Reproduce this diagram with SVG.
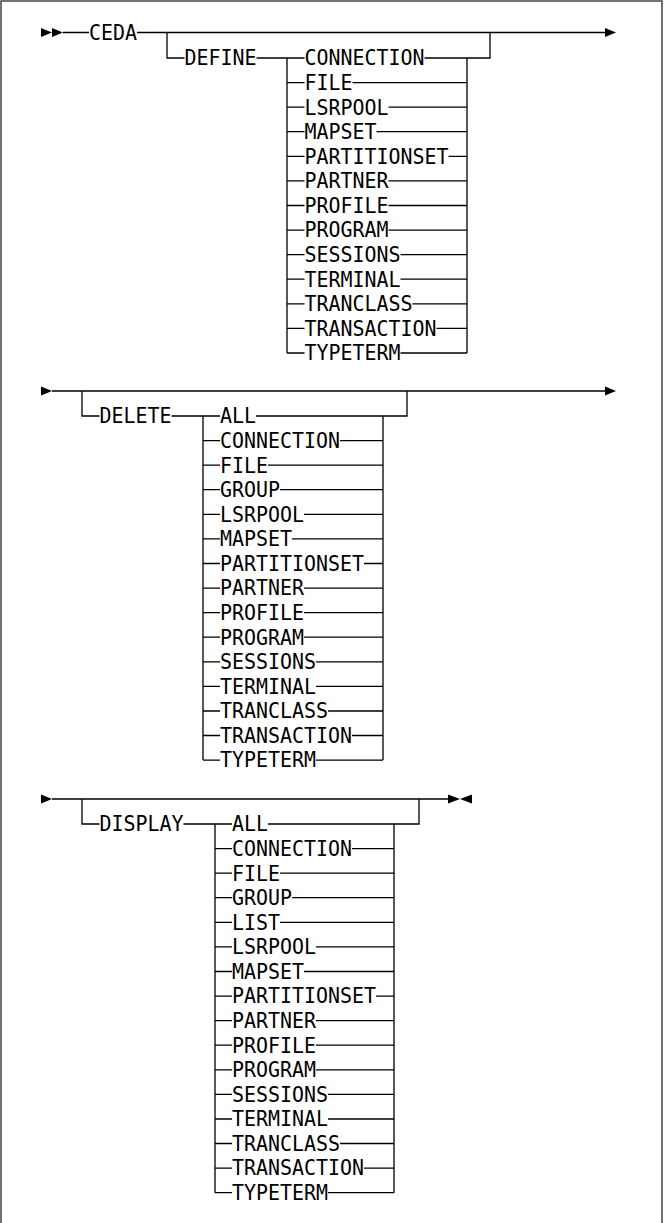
<svg xmlns="http://www.w3.org/2000/svg" width="664" height="1223" viewBox="0 0 664 1223">
<style>
.ln{stroke:#000;stroke-width:1.3;fill:none}
.ar{fill:#000;stroke:none}
.t{font-family:"DejaVu Sans Mono",monospace;font-size:21px;fill:#000}
.bd{fill:#fff;stroke:#444;stroke-width:1.5}
</style>
<rect class="bd" x="1" y="1" width="661" height="1230"/>
<g id="connectors">
<polygon class="ar" points="41,28 52,32.5 41,37"/>
<polygon class="ar" points="52,28 63,32.5 52,37"/>
<polygon class="ar" points="605,28 616,32.5 605,37"/>
<path class="ln" d="M63,32.5H89M137,32.5H605M167,32.5V58H184.5M256.5,58H287M287,58V353M467,58V353M490,32.5V58H424.5
M287,58H304.5
M287,82.6H304.5M352.5,82.6H467
M287,107.2H304.5M388.5,107.2H467
M287,131.7H304.5M376.5,131.7H467
M287,156.3H304.5M448.5,156.3H467
M287,180.9H304.5M388.5,180.9H467
M287,205.5H304.5M388.5,205.5H467
M287,230.1H304.5M388.5,230.1H467
M287,254.6H304.5M400.5,254.6H467
M287,279.2H304.5M400.5,279.2H467
M287,303.8H304.5M412.5,303.8H467
M287,328.4H304.5M436.5,328.4H467
M287,353H304.5M400.5,353H467"/>
<polygon class="ar" points="41,386.5 52,391 41,395.5"/>
<polygon class="ar" points="605,386.5 616,391 605,395.5"/>
<path class="ln" d="M52,391H605M82,391V416H99.5M171.5,416H203M203,416V760.1M383,416V760.1M407,391V416H256
M203,416H220
M203,440.6H220M340,440.6H383
M203,465.2H220M268,465.2H383
M203,489.7H220M280,489.7H383
M203,514.3H220M304,514.3H383
M203,538.9H220M292,538.9H383
M203,563.5H220M364,563.5H383
M203,588.1H220M304,588.1H383
M203,612.6H220M304,612.6H383
M203,637.2H220M304,637.2H383
M203,661.8H220M316,661.8H383
M203,686.4H220M316,686.4H383
M203,711H220M328,711H383
M203,735.5H220M352,735.5H383
M203,760.1H220M316,760.1H383"/>
<polygon class="ar" points="41,794.5 52,799 41,803.5"/>
<polygon class="ar" points="448,794.5 460,799 448,803.5"/>
<polygon class="ar" points="472,794.5 460,799 472,803.5"/>
<path class="ln" d="M52,799H448M82,799V824H99.5M183.5,824H215M215,824V1192.7M394,824V1192.7M419,799V824H268
M215,824H232
M215,848.6H232M352,848.6H394
M215,873.2H232M280,873.2H394
M215,897.7H232M292,897.7H394
M215,922.3H232M280,922.3H394
M215,946.9H232M316,946.9H394
M215,971.5H232M304,971.5H394
M215,996.1H232M376,996.1H394
M215,1020.6H232M316,1020.6H394
M215,1045.2H232M316,1045.2H394
M215,1069.8H232M316,1069.8H394
M215,1094.4H232M328,1094.4H394
M215,1119H232M328,1119H394
M215,1143.5H232M340,1143.5H394
M215,1168.1H232M364,1168.1H394
M215,1192.7H232M328,1192.7H394"/>
</g>
<g id="n-ceda"><text class="t" x="89" y="39.8" textLength="48" lengthAdjust="spacingAndGlyphs">CEDA</text></g>
<g id="s1">
<g id="n-define"><text class="t" x="184.5" y="65.3" textLength="72" lengthAdjust="spacingAndGlyphs">DEFINE</text></g>
<g id="s1-connection"><text class="t" x="304.5" y="65.3" textLength="120" lengthAdjust="spacingAndGlyphs">CONNECTION</text></g>
<g id="s1-file"><text class="t" x="304.5" y="89.9" textLength="48" lengthAdjust="spacingAndGlyphs">FILE</text></g>
<g id="s1-lsrpool"><text class="t" x="304.5" y="114.5" textLength="84" lengthAdjust="spacingAndGlyphs">LSRPOOL</text></g>
<g id="s1-mapset"><text class="t" x="304.5" y="139" textLength="72" lengthAdjust="spacingAndGlyphs">MAPSET</text></g>
<g id="s1-partitionset"><text class="t" x="304.5" y="163.6" textLength="144" lengthAdjust="spacingAndGlyphs">PARTITIONSET</text></g>
<g id="s1-partner"><text class="t" x="304.5" y="188.2" textLength="84" lengthAdjust="spacingAndGlyphs">PARTNER</text></g>
<g id="s1-profile"><text class="t" x="304.5" y="212.8" textLength="84" lengthAdjust="spacingAndGlyphs">PROFILE</text></g>
<g id="s1-program"><text class="t" x="304.5" y="237.4" textLength="84" lengthAdjust="spacingAndGlyphs">PROGRAM</text></g>
<g id="s1-sessions"><text class="t" x="304.5" y="261.9" textLength="96" lengthAdjust="spacingAndGlyphs">SESSIONS</text></g>
<g id="s1-terminal"><text class="t" x="304.5" y="286.5" textLength="96" lengthAdjust="spacingAndGlyphs">TERMINAL</text></g>
<g id="s1-tranclass"><text class="t" x="304.5" y="311.1" textLength="108" lengthAdjust="spacingAndGlyphs">TRANCLASS</text></g>
<g id="s1-transaction"><text class="t" x="304.5" y="335.7" textLength="132" lengthAdjust="spacingAndGlyphs">TRANSACTION</text></g>
<g id="s1-typeterm"><text class="t" x="304.5" y="360.3" textLength="96" lengthAdjust="spacingAndGlyphs">TYPETERM</text></g>
</g>
<g id="s2">
<g id="n-delete"><text class="t" x="99.5" y="423.3" textLength="72" lengthAdjust="spacingAndGlyphs">DELETE</text></g>
<g id="s2-all"><text class="t" x="220" y="423.3" textLength="36" lengthAdjust="spacingAndGlyphs">ALL</text></g>
<g id="s2-connection"><text class="t" x="220" y="447.9" textLength="120" lengthAdjust="spacingAndGlyphs">CONNECTION</text></g>
<g id="s2-file"><text class="t" x="220" y="472.5" textLength="48" lengthAdjust="spacingAndGlyphs">FILE</text></g>
<g id="s2-group"><text class="t" x="220" y="497" textLength="60" lengthAdjust="spacingAndGlyphs">GROUP</text></g>
<g id="s2-lsrpool"><text class="t" x="220" y="521.6" textLength="84" lengthAdjust="spacingAndGlyphs">LSRPOOL</text></g>
<g id="s2-mapset"><text class="t" x="220" y="546.2" textLength="72" lengthAdjust="spacingAndGlyphs">MAPSET</text></g>
<g id="s2-partitionset"><text class="t" x="220" y="570.8" textLength="144" lengthAdjust="spacingAndGlyphs">PARTITIONSET</text></g>
<g id="s2-partner"><text class="t" x="220" y="595.4" textLength="84" lengthAdjust="spacingAndGlyphs">PARTNER</text></g>
<g id="s2-profile"><text class="t" x="220" y="619.9" textLength="84" lengthAdjust="spacingAndGlyphs">PROFILE</text></g>
<g id="s2-program"><text class="t" x="220" y="644.5" textLength="84" lengthAdjust="spacingAndGlyphs">PROGRAM</text></g>
<g id="s2-sessions"><text class="t" x="220" y="669.1" textLength="96" lengthAdjust="spacingAndGlyphs">SESSIONS</text></g>
<g id="s2-terminal"><text class="t" x="220" y="693.7" textLength="96" lengthAdjust="spacingAndGlyphs">TERMINAL</text></g>
<g id="s2-tranclass"><text class="t" x="220" y="718.3" textLength="108" lengthAdjust="spacingAndGlyphs">TRANCLASS</text></g>
<g id="s2-transaction"><text class="t" x="220" y="742.8" textLength="132" lengthAdjust="spacingAndGlyphs">TRANSACTION</text></g>
<g id="s2-typeterm"><text class="t" x="220" y="767.4" textLength="96" lengthAdjust="spacingAndGlyphs">TYPETERM</text></g>
</g>
<g id="s3">
<g id="n-display"><text class="t" x="99.5" y="831.3" textLength="84" lengthAdjust="spacingAndGlyphs">DISPLAY</text></g>
<g id="s3-all"><text class="t" x="232" y="831.3" textLength="36" lengthAdjust="spacingAndGlyphs">ALL</text></g>
<g id="s3-connection"><text class="t" x="232" y="855.9" textLength="120" lengthAdjust="spacingAndGlyphs">CONNECTION</text></g>
<g id="s3-file"><text class="t" x="232" y="880.5" textLength="48" lengthAdjust="spacingAndGlyphs">FILE</text></g>
<g id="s3-group"><text class="t" x="232" y="905" textLength="60" lengthAdjust="spacingAndGlyphs">GROUP</text></g>
<g id="s3-list"><text class="t" x="232" y="929.6" textLength="48" lengthAdjust="spacingAndGlyphs">LIST</text></g>
<g id="s3-lsrpool"><text class="t" x="232" y="954.2" textLength="84" lengthAdjust="spacingAndGlyphs">LSRPOOL</text></g>
<g id="s3-mapset"><text class="t" x="232" y="978.8" textLength="72" lengthAdjust="spacingAndGlyphs">MAPSET</text></g>
<g id="s3-partitionset"><text class="t" x="232" y="1003.4" textLength="144" lengthAdjust="spacingAndGlyphs">PARTITIONSET</text></g>
<g id="s3-partner"><text class="t" x="232" y="1027.9" textLength="84" lengthAdjust="spacingAndGlyphs">PARTNER</text></g>
<g id="s3-profile"><text class="t" x="232" y="1052.5" textLength="84" lengthAdjust="spacingAndGlyphs">PROFILE</text></g>
<g id="s3-program"><text class="t" x="232" y="1077.1" textLength="84" lengthAdjust="spacingAndGlyphs">PROGRAM</text></g>
<g id="s3-sessions"><text class="t" x="232" y="1101.7" textLength="96" lengthAdjust="spacingAndGlyphs">SESSIONS</text></g>
<g id="s3-terminal"><text class="t" x="232" y="1126.3" textLength="96" lengthAdjust="spacingAndGlyphs">TERMINAL</text></g>
<g id="s3-tranclass"><text class="t" x="232" y="1150.8" textLength="108" lengthAdjust="spacingAndGlyphs">TRANCLASS</text></g>
<g id="s3-transaction"><text class="t" x="232" y="1175.4" textLength="132" lengthAdjust="spacingAndGlyphs">TRANSACTION</text></g>
<g id="s3-typeterm"><text class="t" x="232" y="1200" textLength="96" lengthAdjust="spacingAndGlyphs">TYPETERM</text></g>
</g>
</svg>
